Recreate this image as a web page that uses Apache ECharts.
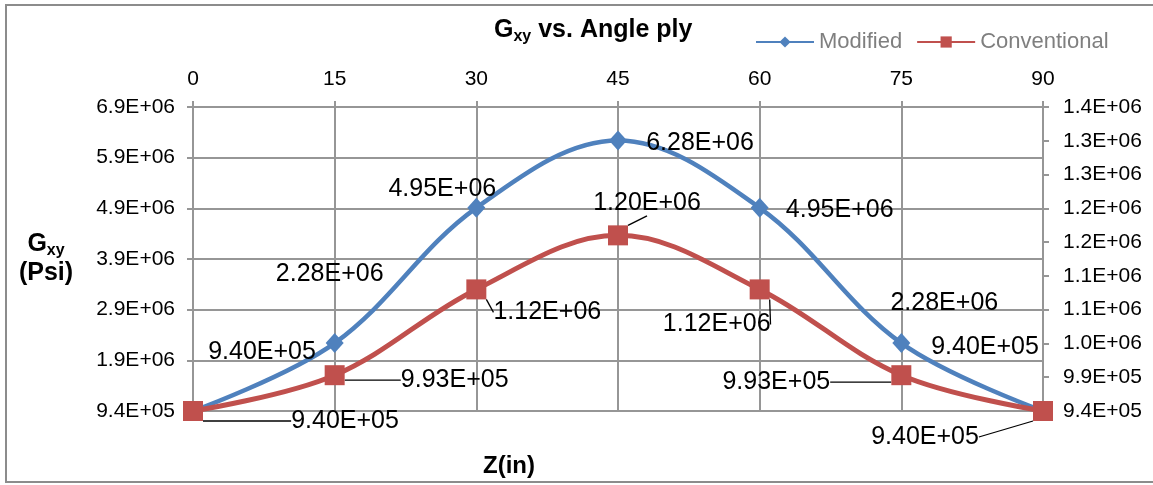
<!DOCTYPE html>
<html>
<head>
<meta charset="utf-8">
<script src="https://cdn.jsdelivr.net/npm/echarts@6/dist/echarts.min.js"></script>
<style>
  html, body { margin: 0; padding: 0; background: #fff; }
  #chart { width: 1153px; height: 485px; }
</style>
</head>
<body>
<div id="chart"></div>
<script>
// Ply angle (deg) and shear modulus Gxy (psi) for the two formulations
const angles = [0, 15, 30, 45, 60, 75, 90];
const modified = [940000, 2280000, 4950000, 6280000, 4950000, 2280000, 940000];
const conventional = [940000, 993000, 1120000, 1200000, 1120000, 993000, 940000];

// Axis tick values
const angleTicks = [0, 15, 30, 45, 60, 75, 90];
const leftTicks = [940000, 1940000, 2940000, 3940000, 4940000, 5940000, 6940000];
const rightTicks = [940000, 990000, 1040000, 1090000, 1140000, 1190000, 1240000, 1290000, 1340000, 1390000];

// Where each value label sits relative to its point (px)
const modifiedLabelOffsets = [[69, -59], [-5, -69], [-34, -19], [82, 3], [80, 2], [43, -40], [-58, -64]];
const conventionalLabelOffsets = [[152, 10], [120, 5], [71, 23], [29, -32], [-43, 35], [-125, 7], [-118, 26]];

const FONT = 'Liberation Sans, Arial, sans-serif';
const GRID_COLOR = '#969696';

// Spreadsheet-style scientific notation: 9.40E+05
function sci(v, digits) {
  const parts = Number(v).toExponential(digits).split('e');
  const exp = parseInt(parts[1], 10);
  return parts[0] + 'E' + (exp < 0 ? '-' : '+') + String(Math.abs(exp)).padStart(2, '0');
}

function layoutFrom(offsets) {
  return function (params) {
    const o = offsets[params.dataIndex];
    const r = params.rect;
    return {
      x: r.x + r.width / 2 + o[0],
      y: r.y + r.height / 2 + o[1],
      align: 'center',
      verticalAlign: 'middle'
    };
  };
}

const chart = echarts.init(document.getElementById('chart'), null, { renderer: 'canvas' });

function subRich(size) {
  return {
    g: { fontFamily: FONT, fontSize: size, fontWeight: 'bold', color: '#000', lineHeight: size + 4, verticalAlign: 'middle' },
    s: { fontFamily: FONT, fontSize: Math.round(size * 0.64), fontWeight: 'bold', color: '#000', lineHeight: 12, verticalAlign: 'bottom' }
  };
}

chart.setOption({
  animation: false,
  backgroundColor: '#fff',
  title: {
    text: '{g|G}{s|xy}{g| vs. Angle ply}',
    left: 489,
    top: 11,
    textStyle: { rich: subRich(25) }
  },
  legend: {
    left: 750,
    top: 26,
    itemWidth: 58,
    itemHeight: 14,
    itemGap: 14,
    textStyle: { fontFamily: FONT, fontSize: 22, color: '#7f7f7f' },
    data: ['Modified', 'Conventional']
  },
  grid: { left: 193, right: 110, top: 107, bottom: 74, containLabel: false },
  xAxis: {
    type: 'value',
    position: 'top',
    min: 0,
    max: 90,
    interval: 15,
    axisLine: { show: true, lineStyle: { color: GRID_COLOR, width: 2 } },
    axisTick: { show: true, inside: false, length: 6, lineStyle: { color: GRID_COLOR, width: 2 } },
    axisLabel: { margin: 17, fontFamily: FONT, fontSize: 21, color: '#000' },
    splitLine: { show: true, lineStyle: { color: GRID_COLOR, width: 2 } }
  },
  yAxis: [
    {
      type: 'value',
      position: 'left',
      min: leftTicks[0],
      max: leftTicks[leftTicks.length - 1],
      name: '{g|G}{s|xy}\n{g|(Psi)}',
      nameLocation: 'middle',
      nameRotate: 0,
      nameGap: 147,
      nameTextStyle: { rich: subRich(25), align: 'center' },
      axisLine: { show: true, lineStyle: { color: GRID_COLOR, width: 2 } },
      axisTick: { show: true, inside: false, length: 6, customValues: leftTicks, lineStyle: { color: GRID_COLOR, width: 2 } },
      axisLabel: {
        customValues: leftTicks,
        margin: 18,
        fontFamily: FONT, fontSize: 21, color: '#000',
        formatter: function (v) { return sci(v, 1); }
      },
      splitLine: { show: true, lineStyle: { color: GRID_COLOR, width: 2 } }
    },
    {
      type: 'value',
      position: 'right',
      min: rightTicks[0],
      max: rightTicks[rightTicks.length - 1],
      axisLine: { show: true, lineStyle: { color: GRID_COLOR, width: 2 } },
      axisTick: { show: true, inside: false, length: 6, customValues: rightTicks, lineStyle: { color: GRID_COLOR, width: 2 } },
      axisLabel: {
        customValues: rightTicks,
        margin: 20,
        fontFamily: FONT, fontSize: 21, color: '#000',
        formatter: function (v) { return sci(v, 1); }
      },
      splitLine: { show: false }
    }
  ],
  graphic: [
    {
      type: 'rect',
      shape: { x: 6, y: 5, width: 1160, height: 477 },
      style: { fill: 'none', stroke: '#8c8c8c', lineWidth: 2 },
      silent: true
    },
    {
      type: 'text',
      left: 483,
      top: 454,
      style: { text: 'Z(in)', fontFamily: FONT, fontSize: 24, fontWeight: 'bold', fill: '#000' }
    }
  ],
  series: [
    {
      name: 'Modified',
      type: 'line',
      yAxisIndex: 0,
      smooth: 0.36,
      data: angles.map(function (a, i) { return [a, modified[i]]; }),
      symbol: 'diamond',
      symbolSize: [18, 20],
      lineStyle: { color: '#4F81BD', width: 4.5 },
      itemStyle: { color: '#4F81BD' },
      label: {
        show: true,
        fontFamily: FONT, fontSize: 25, color: '#000',
        formatter: function (p) { return sci(p.value[1], 2); }
      },
      labelLayout: layoutFrom(modifiedLabelOffsets),
      z: 3
    },
    {
      name: 'Conventional',
      type: 'line',
      yAxisIndex: 1,
      smooth: 0.36,
      data: angles.map(function (a, i) { return [a, conventional[i]]; }),
      symbol: 'rect',
      symbolSize: 20,
      lineStyle: { color: '#C0504D', width: 5 },
      itemStyle: { color: '#C0504D' },
      label: {
        show: true,
        fontFamily: FONT, fontSize: 25, color: '#000',
        formatter: function (p) { return sci(p.value[1], 2); }
      },
      labelLine: { show: true, lineStyle: { color: '#000', width: 1.3 } },
      labelLayout: layoutFrom(conventionalLabelOffsets),
      z: 4
    }
  ]
});
</script>
</body>
</html>
